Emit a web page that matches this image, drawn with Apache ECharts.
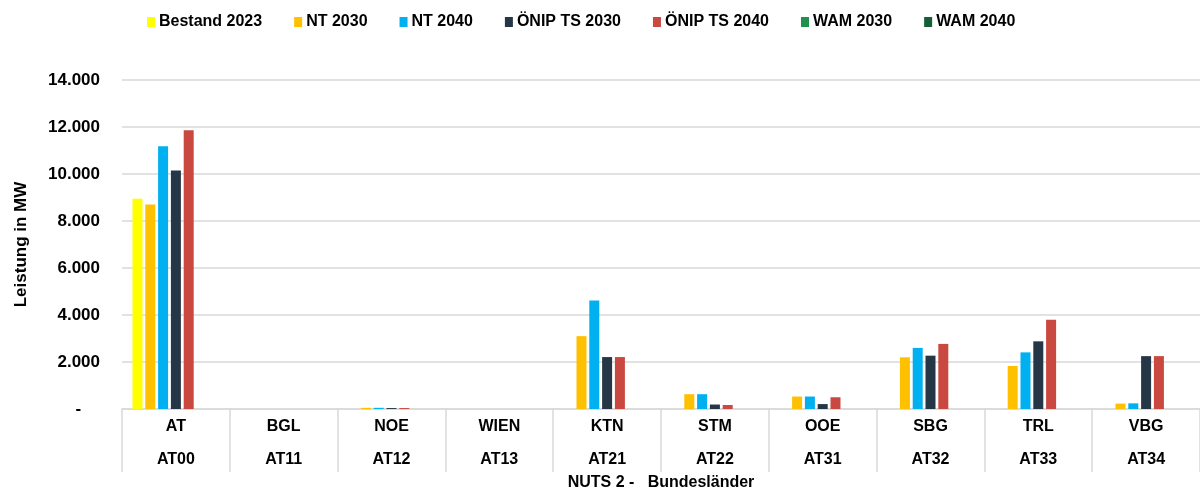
<!DOCTYPE html>
<html>
<head>
<meta charset="utf-8">
<script src="https://cdn.jsdelivr.net/npm/echarts@6/dist/echarts.min.js"></script>
<style>
  html, body { margin: 0; padding: 0; background: #fff; }
  #chart { width: 1200px; height: 493px; }
</style>
</head>
<body>
<div id="chart"></div>
<script>
// Regionen (NUTS 2)
const regions = ['AT', 'BGL', 'NOE', 'WIEN', 'KTN', 'STM', 'OOE', 'SBG', 'TRL', 'VBG']
const codes = ['AT00', 'AT11', 'AT12', 'AT13', 'AT21', 'AT22', 'AT31', 'AT32', 'AT33', 'AT34']
const yTicks = [0, 2000, 4000, 6000, 8000, 10000, 12000, 14000]

// Leistung in MW
const bestand2023 = [8950, null, null, null, null, null, null, null, null, null]
const nt2030 = [8700, 0, 50, 0, 3100, 630, 530, 2200, 1830, 230]
const nt2040 = [11180, 0, 50, 0, 4620, 630, 530, 2600, 2410, 240]
const onip2030 = [10150, 0, 40, 0, 2210, 190, 210, 2270, 2880, 2250]
const onip2040 = [11860, 0, 40, 0, 2210, 170, 500, 2770, 3800, 2250]
const wam2030 = [null, null, null, null, null, null, null, null, null, null]
const wam2040 = [null, null, null, null, null, null, null, null, null, null]

const seriesNames = ['Bestand 2023', 'NT 2030', 'NT 2040', 'ÖNIP TS 2030', 'ÖNIP TS 2040', 'WAM 2030', 'WAM 2040']
const seriesData = [bestand2023, nt2030, nt2040, onip2030, onip2040, wam2030, wam2040]
const colors = ['#FFFF00', '#FFC000', '#00B0F0', '#253746', '#C9483F', '#21924E', '#155F35']

const font = '"Liberation Sans", Arial, sans-serif'
const myChart = echarts.init(document.getElementById('chart'))

let option = {
  color: colors,
  animation: false,
  textStyle: { fontFamily: font },
  legend: {
    data: seriesNames,
    left: 142,
    top: 9,
    itemWidth: 8,
    itemHeight: 10,
    itemGap: 32,
    icon: 'rect',
    textStyle: { fontFamily: font, fontWeight: 'bold', fontSize: 16, color: '#000', padding: [0, 0, 0, -1] }
  },
  grid: {
    left: 122,
    right: 0,
    top: 80,
    bottom: 84,
    outerBoundsMode: 'none'
  },
  xAxis: {
    type: 'category',
    data: regions,
    name: 'NUTS 2 -   Bundesländer',
    nameLocation: 'middle',
    nameGap: 66,
    nameTextStyle: { fontFamily: font, fontWeight: 'bold', fontSize: 16, color: '#000' },
    axisLine: { lineStyle: { color: '#d9d9d9', width: 1.5 } },
    axisTick: { show: true, length: 63, interval: 0, lineStyle: { color: '#d9d9d9', width: 1.5 } },
    axisLabel: {
      interval: 0,
      margin: 1,
      formatter: (value, index) => `{a|${value}}\n{b|${codes[index]}}`,
      rich: {
        a: { fontFamily: font, fontWeight: 'bold', fontSize: 16, color: '#000', lineHeight: 33 },
        b: { fontFamily: font, fontWeight: 'bold', fontSize: 16, color: '#000', lineHeight: 33 }
      }
    }
  },
  yAxis: {
    type: 'value',
    min: yTicks[0],
    max: yTicks[yTicks.length - 1],
    interval: 2000,
    name: 'Leistung in MW',
    nameLocation: 'middle',
    nameGap: 92,
    nameRotate: 90,
    nameTextStyle: { fontFamily: font, fontWeight: 'bold', fontSize: 17, color: '#000' },
    axisLine: { show: false },
    axisTick: { show: false },
    splitLine: { lineStyle: { color: '#d9d9d9', width: 1.5 } },
    axisLabel: {
      margin: 22,
      fontFamily: font,
      fontWeight: 'bold',
      fontSize: 17,
      color: '#000',
      formatter: (v) => v === 0 ? '-    ' : v.toLocaleString('de-DE')
    }
  },
  series: []
}

for (let i = 0; i < seriesNames.length; i++) {
  option.series.push({
    name: seriesNames[i],
    type: 'bar',
    barWidth: 10,
    barGap: '28%',
    data: seriesData[i]
  })
}

myChart.setOption(option)
</script>
</body>
</html>
